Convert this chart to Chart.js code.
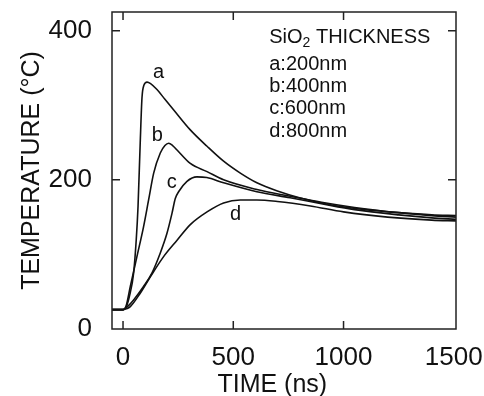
<!DOCTYPE html>
<html>
<head>
<meta charset="utf-8">
<script src="https://cdn.jsdelivr.net/npm/chart.js@4/dist/chart.umd.min.js"></script>
<style>
  html, body { margin: 0; padding: 0; background: #fff; }
  #wrap { width: 484px; height: 396px; }
</style>
</head>
<body>
<div id="wrap"><canvas id="chart"></canvas></div>
<script>
// Curve data (time in ns, temperature in °C)
const timeA = [-50, 0, 15, 30, 48, 60, 68, 78, 86, 95, 109, 125, 154, 190, 229, 305, 381, 456, 532, 607, 700, 800, 950, 1100, 1250, 1400, 1510];
const tempA = [26, 26, 30, 45, 75, 120, 164, 250, 310, 327, 331, 329, 321, 308, 294, 267, 245, 225, 209, 196, 185, 176, 166, 160, 156, 153, 152];

const timeB = [-50, 0, 15, 33, 63, 93, 116, 139, 169, 190, 207, 225, 245, 305, 381, 456, 607, 758, 900, 1050, 1250, 1400, 1510];
const tempB = [26, 26, 32, 57, 97, 137, 173, 209, 236, 246, 249, 246, 240, 222, 211, 200, 187, 178, 170, 163, 156, 152, 150];

const timeC = [-50, 0, 20, 48, 93, 131, 169, 199, 222, 237, 252, 290, 335, 380, 456, 607, 758, 900, 1050, 1250, 1400, 1510];
const tempC = [26, 26, 30, 39, 57, 75, 102, 128, 155, 175, 184, 198, 204, 203, 196, 184, 176, 168, 160, 153, 149, 147];

const timeD = [-50, 0, 15, 33, 78, 124, 184, 245, 305, 381, 456, 532, 607, 700, 850, 1000, 1200, 1400, 1510];
const tempD = [26, 26, 27, 30, 48, 70, 97, 119, 140, 157, 169, 173, 173, 171, 165, 157, 150, 146, 145];

const curveNames = ['a', 'b', 'c', 'd'];
const legendLines = ['a:200nm', 'b:400nm', 'c:600nm', 'd:800nm'];

const xTicks = [0, 500, 1000, 1500];
const yTicks = [0, 200, 400];

const FONT = '"Liberation Sans", Arial, Helvetica, sans-serif';

function toPoints(xs, ys) {
  return xs.map((x, i) => ({ x: x, y: ys[i] }));
}

function lineSet(label, xs, ys) {
  return {
    label: label,
    data: toPoints(xs, ys),
    borderColor: '#111',
    borderWidth: 1.6,
    pointRadius: 0,
    fill: false,
    cubicInterpolationMode: 'monotone'
  };
}

// frame, inward ticks and text annotations
const decorations = {
  id: 'decorations',
  afterDraw(chart) {
    const ctx = chart.ctx;
    const area = chart.chartArea;
    const xs = chart.scales.x;
    const ys = chart.scales.y;
    const tick = 8;

    ctx.save();
    ctx.strokeStyle = '#222';
    ctx.lineWidth = 1.5;
    ctx.strokeRect(area.left, area.top, area.right - area.left, area.bottom - area.top);

    ctx.beginPath();
    xTicks.forEach(v => {
      const px = xs.getPixelForValue(v);
      if (px <= area.left + 3 || px >= area.right - 3) return;
      ctx.moveTo(px, area.bottom); ctx.lineTo(px, area.bottom - tick);
      ctx.moveTo(px, area.top); ctx.lineTo(px, area.top + tick);
    });
    yTicks.forEach(v => {
      const py = ys.getPixelForValue(v);
      if (py >= area.bottom - 3 || py <= area.top + 3) return;
      ctx.moveTo(area.left, py); ctx.lineTo(area.left + tick, py);
      ctx.moveTo(area.right, py); ctx.lineTo(area.right - tick, py);
    });
    ctx.stroke();

    ctx.fillStyle = '#111';
    ctx.textBaseline = 'middle';

    // curve letters
    const labelPos = [[161, 344], [155, 259], [221, 196], [510, 153]];
    ctx.font = '20px ' + FONT;
    ctx.textAlign = 'center';
    curveNames.forEach((n, i) => {
      ctx.fillText(n, xs.getPixelForValue(labelPos[i][0]), ys.getPixelForValue(labelPos[i][1]));
    });

    // legend block
    ctx.textAlign = 'left';
    const lx = xs.getPixelForValue(663);
    let y0 = ys.getPixelForValue(391);
    ctx.fillText('SiO', lx, y0);
    let w = ctx.measureText('SiO').width;
    ctx.font = '14px ' + FONT;
    ctx.fillText('2', lx + w, y0 + 6);
    w += ctx.measureText('2').width;
    ctx.font = '20px ' + FONT;
    ctx.fillText(' THICKNESS', lx + w, y0);
    const lineY = [354, 325, 296, 265];
    legendLines.forEach((t, i) => {
      ctx.fillText(t, lx, ys.getPixelForValue(lineY[i]));
    });

    // x axis title
    ctx.font = '25px ' + FONT;
    ctx.textAlign = 'center';
    ctx.fillText('TIME (ns)', xs.getPixelForValue(677), 385);
    ctx.restore();
  }
};

new Chart(document.getElementById('chart'), {
  type: 'line',
  data: {
    datasets: [
      lineSet('a', timeA, tempA),
      lineSet('b', timeB, tempB),
      lineSet('c', timeC, tempC),
      lineSet('d', timeD, tempD)
    ]
  },
  options: {
    responsive: true,
    maintainAspectRatio: false,
    animation: false,
    layout: { padding: { top: 12, right: 28, left: 0, bottom: 0 } },
    plugins: {
      legend: { display: false },
      tooltip: { enabled: false }
    },
    scales: {
      x: {
        type: 'linear',
        min: -50,
        max: 1510,
        grid: { display: false },
        border: { display: false },
        afterBuildTicks: scale => { scale.ticks = xTicks.map(v => ({ value: v })); },
        afterFit: scale => {
          scale.height = 67;
          scale.paddingLeft = 0;
          scale.paddingRight = 0;
        },
        ticks: {
          color: '#111',
          padding: 5,
          maxRotation: 0,
          callback: v => String(v),
          font: { family: FONT, size: 26 }
        }
      },
      y: {
        min: 0,
        max: 425,
        grid: { display: false },
        border: { display: false },
        afterBuildTicks: scale => { scale.ticks = yTicks.map(v => ({ value: v })); },
        afterFit: scale => {
          scale.width = 112;
          scale.paddingTop = 0;
          scale.paddingBottom = 0;
        },
        ticks: {
          color: '#111',
          padding: 12,
          callback: v => String(v),
          font: { family: FONT, size: 26 }
        },
        title: {
          display: true,
          text: 'TEMPERATURE (°C)',
          color: '#111',
          padding: { top: 20, bottom: 0 },
          font: { family: FONT, size: 25, lineHeight: 1 }
        }
      }
    }
  },
  plugins: [decorations]
});
</script>
</body>
</html>
